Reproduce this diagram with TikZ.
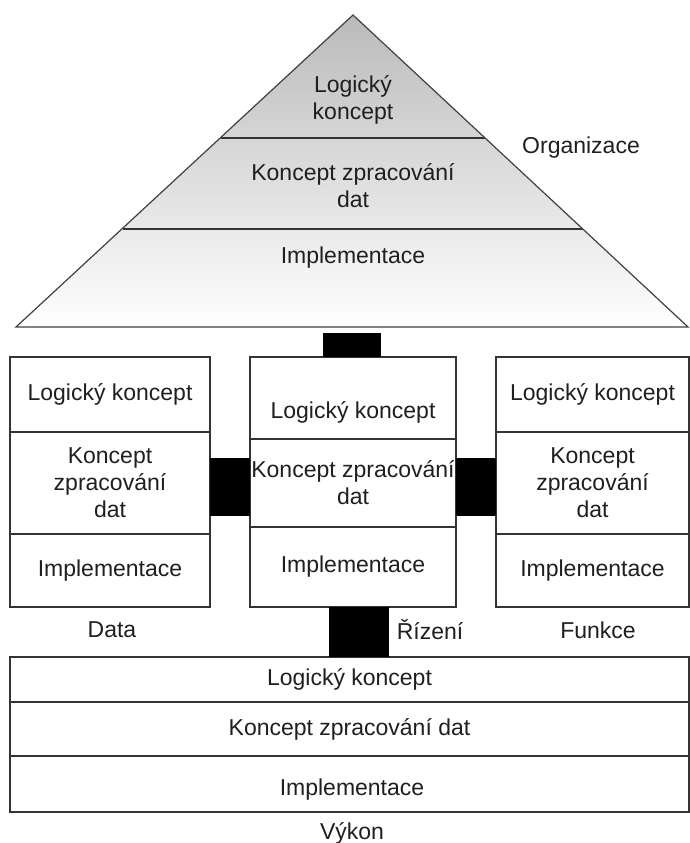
\documentclass[tikz,border=0pt]{standalone}
\usepackage{fontspec}
\setmainfont{Liberation Sans}
\usetikzlibrary{calc}
\begin{document}
\begin{tikzpicture}[x=1pt,y=-1pt,
  sec/.style={draw=black!80, line width=1.5pt, inner sep=0pt, outer sep=0pt, font=\fontsize{23}{27}\selectfont, text=black!88, align=center},
  txt/.style={font=\fontsize{23}{27}\selectfont, text=black!88, align=center, inner sep=0pt},
  conn/.style={black, line width=#1},
  pyrline/.style={draw=black!75, line width=1.2pt},
  divline/.style={draw=black!80, line width=1.6pt}
]
\useasboundingbox (0,0) rectangle (690,843);
% pyramid
\coordinate (apex) at (353,15);
\coordinate (bl) at (16,327);
\coordinate (br) at (688,327);
\coordinate (pb) at (352,333);
\shade[top color=black!27, bottom color=white] (apex) -- (br) -- (bl) -- cycle;
\draw[divline] (221,138) -- (485,138);
\draw[divline] (123,229) -- (583,229);
\draw[pyrline] (apex) -- (br) -- (bl) -- cycle;
\node[txt] (p1) at (353,100) {Logický\\koncept};
\node[txt] (p2) at (353,186) {Koncept zpracování\\dat};
\node[txt] (p3) at (353,258) {Implementace};
\node[txt] (org) at (581,148) {Organizace};
% Data
\node[sec, minimum width=200pt, minimum height=75pt] (d1) at (110,394.5) {Logický koncept};
\node[sec, minimum width=200pt, minimum height=102pt] (d2) at (110,483) {Koncept\\zpracování\\dat};
\node[sec, minimum width=200pt, minimum height=73pt] (d3) at (110,570.5) {Implementace};
% Rizeni
\node[sec, minimum width=206pt, minimum height=82pt] (m1) at (353,398) {};
\node[txt] (m1t) at (353,412) {Logický koncept};
\node[sec, minimum width=206pt, minimum height=88pt] (m2) at (353,483) {Koncept zpracování\\dat};
\node[sec, minimum width=206pt, minimum height=80pt] (m3) at (353,567) {Implementace};
% Funkce
\node[sec, minimum width=193pt, minimum height=75pt] (f1) at (592.5,394.5) {Logický koncept};
\node[sec, minimum width=193pt, minimum height=102pt] (f2) at (592.5,483) {Koncept\\zpracování\\dat};
\node[sec, minimum width=193pt, minimum height=73pt] (f3) at (592.5,570.5) {Implementace};
% Vykon
\node[sec, minimum width=679pt, minimum height=45pt] (v1) at (349.5,679.5) {Logický koncept};
\node[sec, minimum width=679pt, minimum height=54pt] (v2) at (349.5,729) {Koncept zpracování dat};
\node[sec, minimum width=679pt, minimum height=56pt] (v3) at (349.5,784) {};
\node[txt] (v3t) at (352,790) {Implementace};
% labels
\node[txt] (ld) at (112,630) {Data};
\node[txt] (lr) at (430,630) {Řízení};
\node[txt] (lf) at (598,630) {Funkce};
\node[txt] (lv) at (352,833) {Výkon};
% connectors
\draw[conn=58pt] ([xshift=-1pt]m1.north) -- ([xshift=-1pt]m1.north |- pb);
\draw[conn=58pt] ([yshift=-4pt]d2.east) -- ([yshift=-4pt]m2.west);
\draw[conn=58pt] ([yshift=-4pt]m2.east) -- ([yshift=-4pt]f2.west);
\draw[conn=60pt] ([xshift=6pt]m3.south) -- ([xshift=6pt]m3.south |- v1.north);
\end{tikzpicture}
\end{document}
